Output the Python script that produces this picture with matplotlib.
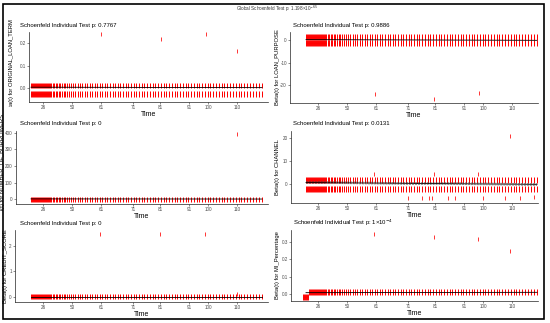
import matplotlib.pyplot as plt
from matplotlib.patches import Rectangle
from matplotlib.transforms import Bbox

plt.rcParams['font.family'] = ['Liberation Sans', 'DejaVu Sans']

W, H = 550, 323

# event times on the transformed (km) time axis, shared by every panel
event_pos = [2, 3, 4, 5, 6, 7, 8, 9, 10, 11, 12, 13, 14, 15, 16, 17, 18, 19, 20,
             21, 22, 24, 25, 27, 28, 30, 31, 33, 35, 36, 38, 40, 42, 44, 46, 49,
             51, 53, 56, 58, 61, 63, 66, 68, 71, 73, 76, 78, 81, 84, 86, 89, 91,
             94, 97, 99, 102, 105, 107, 110, 113, 115, 118, 121, 124, 126, 129,
             132, 135, 137, 140, 143, 146, 148, 151, 154, 157, 159, 162, 165,
             168, 170, 173, 176, 179, 181, 184, 187, 190, 193, 195, 198, 201,
             204, 207, 210, 212, 215, 218, 221, 224, 227, 230, 233]

tick_pos = [14, 43, 72, 104, 131, 160, 179, 208]
tick_labels = ['26', '50', '61', '71', '81', '91', '100', '110']

global_p = '1.198×10$^{-65}$'

# ORIGINAL_LOAN_TERM
term_levels = [0.014, 0.008, -0.02, -0.033]
term_out_x = [72, 132, 177, 208]
term_out_y = [0.24, 0.218, 0.24, 0.167]
term_fit = [0.004, 0.002]

# LOAN_PURPOSE
purpose_levels = [2.0, 1.0, -0.8, -1.7]
purpose_out_x = [71, 130, 175]
purpose_out_y = [-23.9, -26.4, -23.6]
purpose_fit = [0.2, -0.1]

# NUMBER_OF_BORROWERS
borrowers_levels = [3, -3]
borrowers_out_x = [208]
borrowers_out_y = [394]
borrowers_fit = [1, 0]

# CHANNEL
channel_levels = [2.3, 1.4, -1.9, -2.7]
channel_out_x = [70, 104, 118, 125, 128, 130, 144, 151, 174, 179, 201, 206, 216, 230]
channel_out_y = [4.1, -6.2, -6.2, -6.0, -6.2, 4.2, -6.2, -6.2, 4.1, -6.0, -6.2, 21.0, -6.2, -5.9]
channel_fit = [0.6, -0.2]

# CREDIT_SCORE
credit_levels = [0.02, -0.02]
credit_out_x = [71, 131, 176, 208]
credit_out_y = [2.47, 2.47, 2.47, 0.1]
credit_fit = [0.0, 0.0]

# MI_Percentage
mi_levels = [0.015, 0.005]
mi_early_x = [-1, 0, 1, 2, 3, 4]
mi_early_levels = [-0.012, -0.025]
mi_out_x = [70, 130, 174, 206]
mi_out_y = [0.346, 0.33, 0.32, 0.25]
mi_fit = [0.008, 0.01]

fig = plt.figure(figsize=(W / 100, H / 100), dpi=100)


def px_axes(left, top, right, bottom):
    return fig.add_axes([left / W, 1 - bottom / H, (right - left) / W, (bottom - top) / H])


def fig_text(x, y, s, **kw):
    return fig.text(x / W, 1 - y / H, s, **kw)


panels = [
    # name, p, levels, out_x, out_y, fit, (l, t, r, b), origin, ylim, yticks, ylabels, row clip, ylabel x
    ('ORIGINAL_LOAN_TERM', '0.7767', term_levels, term_out_x, term_out_y, term_fit,
     (29, 32, 268, 102), 29, (-0.062, 0.25), [0.0, 0.1, 0.2], ['0.0', '0.1', '0.2'], (15, 107), 12),
    ('LOAN_PURPOSE', '0.9886', purpose_levels, purpose_out_x, purpose_out_y, purpose_fit,
     (290, 32, 538, 103), 304, (-28, 3.6), [-20, -10, 0], ['-20', '-10', '0'], (15, 107), 277),
    ('NUMBER_OF_BORROWERS', '0', borrowers_levels, borrowers_out_x, borrowers_out_y, borrowers_fit,
     (15.5, 131, 268, 204), 29, (-30, 412), [0, 100, 200, 300, 400], ['0', '100', '200', '300', '400'], (107, 211), 3.0),
    ('CHANNEL', '0.0131', channel_levels, channel_out_x, channel_out_y, channel_fit,
     (291, 131, 538, 203), 304, (-8.3, 23), [0, 10, 20], ['0', '10', '20'], (107, 211), 278),
    ('CREDIT_SCORE', '0', credit_levels, credit_out_x, credit_out_y, credit_fit,
     (15, 230, 268, 302), 29, (-0.2, 2.63), [0, 1, 2], ['0', '1', '2'], (211, 318), 5.5),
    ('MI_Percentage', '1×10$^{-4}$', mi_levels, mi_out_x, mi_out_y, mi_fit,
     (291, 230, 538, 301), 304, (-0.04, 0.369), [0.0, 0.1, 0.2, 0.3], ['0.0', '0.1', '0.2', '0.3'], (211, 318), 278),
]

for name, p, levels, out_x, out_y, fit, rect, origin, ylim, yticks, ylabels, clip, lx in panels:
    left, top, right, bottom = rect
    ax = px_axes(left, top, right, bottom)
    band_x = event_pos
    if name == 'MI_Percentage':
        band_x = [x for x in event_pos if x > 4]
        for lv in mi_early_levels:
            ax.plot(mi_early_x, [lv] * len(mi_early_x), ls='none', marker='|',
                    ms=2.2, mew=0.7, color='red')
    for lv in levels:
        ax.plot(band_x, [lv] * len(band_x), ls='none', marker='|', ms=2.2,
                mew=0.7, color='red')
    ax.plot(out_x, out_y, ls='none', marker='|', ms=2.2, mew=0.7, color='red', alpha=0.8)

    fx = [event_pos[0], event_pos[-1]]
    ax.plot(fx, fit, color='black', lw=0.6, zorder=4)
    if name == 'CHANNEL':
        ax.plot(fx, [fit[0] + 0.4, fit[1] + 0.4], color='#444444', lw=0.4, ls='--', zorder=4)
        ax.plot(fx, [fit[0] - 0.4, fit[1] - 0.4], color='#444444', lw=0.4, ls='--', zorder=4)

    ax.set_xlim(left - origin, right - origin)
    ax.set_ylim(*ylim)
    ax.set_xticks(tick_pos)
    ax.set_xticklabels(tick_labels)
    ax.set_yticks(yticks)
    ax.set_yticklabels(ylabels)
    ax.tick_params(labelsize=3.3, length=1.5, width=0.4, pad=0.8, colors='#333333',
                   labelcolor='#4D4D4D')
    for side in ['top', 'right']:
        ax.spines[side].set_visible(False)
    for side in ['left', 'bottom']:
        ax.spines[side].set_linewidth(0.5)
        ax.spines[side].set_color('#222222')
    ax.set_xlabel('Time', fontsize=5, labelpad=0.6)

    tx = 20 if origin == 29 else 293
    fig_text(tx, top - 7, 'Schoenfeld Individual Test p: ' + p, fontsize=4.3,
             ha='left', va='center')

    t = fig_text(lx, (top + bottom) / 2, 'Beta(t) for ' + name, fontsize=4.2,
                 rotation=90, ha='center', va='center', zorder=5)
    t.set_clip_box(Bbox.from_extents(0, H - clip[1], W, H - clip[0]))
    t.set_clip_on(True)

fig_text(277, 9, 'Global Schoenfeld Test p: ' + global_p, fontsize=3.3, ha='center',
         va='center', color='#333333')

fig.patches.append(Rectangle((2.5 / W, 1 - 319 / H), 541.5 / W, 315 / H, fill=False,
                             lw=1.2, edgecolor='black', transform=fig.transFigure))

fig.savefig('out.png', dpi=100)
